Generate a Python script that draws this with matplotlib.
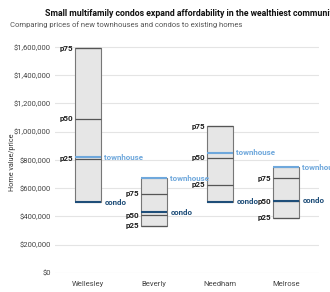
import matplotlib
matplotlib.use("Agg")
import matplotlib.pyplot as plt
from matplotlib.ticker import FuncFormatter

plt.rcParams["font.family"] = ["Roboto", "DejaVu Sans"]

communities = ["Wellesley", "Beverly", "Needham", "Melrose"]
p25 = [810000, 333000, 623000, 390000]
p50 = [1090000, 410000, 814000, 508000]
p75 = [1590000, 560000, 1040000, 672000]
townhouse = [820000, 672000, 850000, 750000]
condo = [500000, 430000, 503000, 510000]

yticks = [0, 200000, 400000, 600000, 800000, 1000000, 1200000, 1400000, 1600000]

TH_COLOR = "#6fa8dc"
CONDO_COLOR = "#1f4e79"
PCT_COLOR = "#555555"

fig = plt.figure(figsize=(3.3, 2.92), dpi=100)
ax = fig.add_axes([55 / 330, 19 / 292, 264 / 330, 231 / 292])

w = 0.4
for i, name in enumerate(communities):
    lo = min(p25[i], p50[i], p75[i], townhouse[i], condo[i])
    hi = max(p25[i], p50[i], p75[i], townhouse[i], condo[i])
    ax.bar(i, hi - lo, bottom=lo, width=w, color="#e6e6e6",
           edgecolor="#777777", linewidth=0.8, zorder=2)
    for v, lab in ((p25[i], "p25"), (p50[i], "p50"), (p75[i], "p75")):
        ax.hlines(v, i - w / 2, i + w / 2, color=PCT_COLOR, lw=0.9, zorder=3)
        ax.text(i - w / 2 - 0.02, v, lab, ha="right", va="center",
                fontsize=5.8, fontweight="bold", color="#222222")
    ax.hlines(townhouse[i], i - w / 2, i + w / 2, color=TH_COLOR, lw=1.5, zorder=4)
    ax.text(i + w / 2 + 0.05, townhouse[i], "townhouse", ha="left", va="center",
            fontsize=5.8, fontweight="bold", color=TH_COLOR, clip_on=False)
    ax.hlines(condo[i], i - w / 2, i + w / 2, color=CONDO_COLOR, lw=1.5, zorder=4)
    ax.text(i + w / 2 + 0.05, condo[i], "condo", ha="left", va="center",
            fontsize=5.8, fontweight="bold", color=CONDO_COLOR, clip_on=False)

ax.set_xlim(-0.5, 3.5)
ax.set_ylim(0, 1635000)
ax.set_yticks(yticks)
ax.yaxis.set_major_formatter(FuncFormatter(lambda v, p: f"${v:,.0f}"))
ax.set_xticks(range(len(communities)))
ax.set_xticklabels(communities)
ax.tick_params(axis="y", length=0, labelsize=5.5, colors="#444444", pad=3)
ax.tick_params(axis="x", length=0, labelsize=5.5, colors="#444444", pad=6)
ax.grid(axis="y", color="#e4e4e4", lw=0.8, zorder=0)
ax.set_axisbelow(True)
for s in ax.spines.values():
    s.set_visible(False)
ax.set_ylabel("Home value/price", fontsize=5.2, color="#333333")
ax.yaxis.set_label_coords(-39 / 264, 0.48)
ax.set_xlabel("Community", fontsize=5.8, color="#333333", labelpad=3)

fig.text(45 / 330, 1 - 14 / 292,
         "Small multifamily condos expand affordability in the wealthiest communities",
         ha="left", va="center", fontsize=6.3, fontweight="bold", color="#111111")
fig.text(10 / 330, 1 - 25 / 292,
         "Comparing prices of new townhouses and condos to existing homes",
         ha="left", va="center", fontsize=5.5, color="#555555")

fig.savefig("out.png", dpi=100)
